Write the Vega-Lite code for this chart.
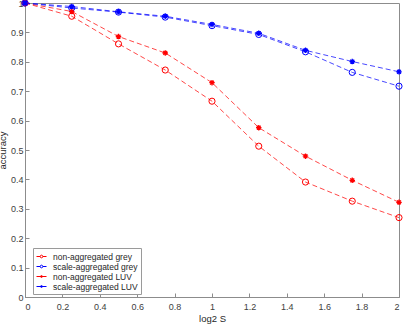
{
  "$schema": "https://vega.github.io/schema/vega-lite/v6.json",
  "width": 374,
  "height": 294,
  "autosize": {"type": "none"},
  "padding": {"left": 25, "top": 3, "right": 4, "bottom": 28},
  "background": "white",
  "config": {
    "view": {"stroke": "#8c8c8c", "strokeWidth": 1},
    "font": "Liberation Sans",
    "axis": {
      "grid": false,
      "domainColor": "#8c8c8c",
      "tickColor": "#8c8c8c",
      "tickSize": -4,
      "labelColor": "#404040",
      "labelFont": "Liberation Sans",
      "labelFontSize": 9,
      "titleFont": "Liberation Sans",
      "titleFontSize": 9.5,
      "titleFontWeight": "normal",
      "titleColor": "#262626"
    },
    "axisX": {"labelPadding": 9, "titlePadding": 2},
    "axisY": {"labelPadding": 6, "titlePadding": 3}
  },
  "data": {
    "values": [
      {"x": 0, "acc": 1.0, "series": "non-aggregated grey"},
      {"x": 0.25, "acc": 0.955, "series": "non-aggregated grey"},
      {"x": 0.5, "acc": 0.861, "series": "non-aggregated grey"},
      {"x": 0.75, "acc": 0.772, "series": "non-aggregated grey"},
      {"x": 1.0, "acc": 0.666, "series": "non-aggregated grey"},
      {"x": 1.25, "acc": 0.513, "series": "non-aggregated grey"},
      {"x": 1.5, "acc": 0.391, "series": "non-aggregated grey"},
      {"x": 1.75, "acc": 0.326, "series": "non-aggregated grey"},
      {"x": 2.0, "acc": 0.27, "series": "non-aggregated grey"},
      {"x": 0, "acc": 1.0, "series": "scale-aggregated grey"},
      {"x": 0.25, "acc": 0.983, "series": "scale-aggregated grey"},
      {"x": 0.5, "acc": 0.969, "series": "scale-aggregated grey"},
      {"x": 0.75, "acc": 0.952, "series": "scale-aggregated grey"},
      {"x": 1.0, "acc": 0.923, "series": "scale-aggregated grey"},
      {"x": 1.25, "acc": 0.893, "series": "scale-aggregated grey"},
      {"x": 1.5, "acc": 0.834, "series": "scale-aggregated grey"},
      {"x": 1.75, "acc": 0.764, "series": "scale-aggregated grey"},
      {"x": 2.0, "acc": 0.717, "series": "scale-aggregated grey"},
      {"x": 0, "acc": 1.0, "series": "non-aggregated LUV"},
      {"x": 0.25, "acc": 0.971, "series": "non-aggregated LUV"},
      {"x": 0.5, "acc": 0.886, "series": "non-aggregated LUV"},
      {"x": 0.75, "acc": 0.83, "series": "non-aggregated LUV"},
      {"x": 1.0, "acc": 0.729, "series": "non-aggregated LUV"},
      {"x": 1.25, "acc": 0.576, "series": "non-aggregated LUV"},
      {"x": 1.5, "acc": 0.479, "series": "non-aggregated LUV"},
      {"x": 1.75, "acc": 0.397, "series": "non-aggregated LUV"},
      {"x": 2.0, "acc": 0.322, "series": "non-aggregated LUV"},
      {"x": 0, "acc": 1.0, "series": "scale-aggregated LUV"},
      {"x": 0.25, "acc": 0.988, "series": "scale-aggregated LUV"},
      {"x": 0.5, "acc": 0.97, "series": "scale-aggregated LUV"},
      {"x": 0.75, "acc": 0.955, "series": "scale-aggregated LUV"},
      {"x": 1.0, "acc": 0.927, "series": "scale-aggregated LUV"},
      {"x": 1.25, "acc": 0.897, "series": "scale-aggregated LUV"},
      {"x": 1.5, "acc": 0.839, "series": "scale-aggregated LUV"},
      {"x": 1.75, "acc": 0.801, "series": "scale-aggregated LUV"},
      {"x": 2.0, "acc": 0.766, "series": "scale-aggregated LUV"}
    ]
  },
  "layer": [
    {
      "transform": [{"filter": "indexof(datum.series, 'non-') == 0"}],
      "mark": {"type": "line", "stroke": "#ff0000", "strokeDash": [5, 3], "strokeWidth": 0.8, "opacity": 0.9},
      "encoding": {
        "x": {"field": "x", "type": "quantitative", "scale": {"domain": [0, 2], "nice": false, "zero": false},
          "axis": {"orient": "bottom", "values": [0, 0.2, 0.4, 0.6, 0.8, 1, 1.2, 1.4, 1.6, 1.8, 2], "labelExpr": "'' + datum.value", "title": "log2 S"}},
        "y": {"field": "acc", "type": "quantitative", "scale": {"domain": [0, 1], "nice": false},
          "axis": {"orient": "left", "values": [0, 0.1, 0.2, 0.3, 0.4, 0.5, 0.6, 0.7, 0.8, 0.9, 1], "labelExpr": "'' + datum.value", "title": "accuracy"}},
        "detail": {"field": "series"}
      }
    },
    {
      "transform": [{"filter": "indexof(datum.series, 'scale-') == 0"}],
      "mark": {"type": "line", "stroke": "#0000ff", "strokeDash": [5, 3], "strokeWidth": 0.8, "opacity": 0.9},
      "encoding": {
        "x": {"field": "x", "type": "quantitative",
          "axis": {"orient": "bottom", "values": [0, 0.2, 0.4, 0.6, 0.8, 1, 1.2, 1.4, 1.6, 1.8, 2], "labelExpr": "'' + datum.value", "title": "log2 S"}},
        "y": {"field": "acc", "type": "quantitative",
          "axis": {"orient": "left", "values": [0, 0.1, 0.2, 0.3, 0.4, 0.5, 0.6, 0.7, 0.8, 0.9, 1], "labelExpr": "'' + datum.value", "title": "accuracy"}},
        "detail": {"field": "series"}
      }
    },
    {
      "transform": [{"filter": "datum.series == 'non-aggregated grey'"}],
      "mark": {"type": "point", "shape": "circle", "size": 38, "strokeWidth": 1, "stroke": "#ff0000", "fill": "none", "filled": false, "opacity": 1},
      "encoding": {
        "x": {"field": "x", "type": "quantitative",
          "axis": {"orient": "bottom", "values": [0, 0.2, 0.4, 0.6, 0.8, 1, 1.2, 1.4, 1.6, 1.8, 2], "labelExpr": "'' + datum.value", "title": "log2 S"}},
        "y": {"field": "acc", "type": "quantitative",
          "axis": {"orient": "left", "values": [0, 0.1, 0.2, 0.3, 0.4, 0.5, 0.6, 0.7, 0.8, 0.9, 1], "labelExpr": "'' + datum.value", "title": "accuracy"}}
      }
    },
    {
      "transform": [{"filter": "datum.series == 'scale-aggregated grey'"}],
      "mark": {"type": "point", "shape": "circle", "size": 38, "strokeWidth": 1, "stroke": "#0000ff", "fill": "none", "filled": false, "opacity": 1},
      "encoding": {
        "x": {"field": "x", "type": "quantitative",
          "axis": {"orient": "bottom", "values": [0, 0.2, 0.4, 0.6, 0.8, 1, 1.2, 1.4, 1.6, 1.8, 2], "labelExpr": "'' + datum.value", "title": "log2 S"}},
        "y": {"field": "acc", "type": "quantitative",
          "axis": {"orient": "left", "values": [0, 0.1, 0.2, 0.3, 0.4, 0.5, 0.6, 0.7, 0.8, 0.9, 1], "labelExpr": "'' + datum.value", "title": "accuracy"}}
      }
    },
    {
      "transform": [{"filter": "datum.series == 'non-aggregated LUV'"}],
      "mark": {"type": "point", "shape": "M-1,0L1,0M0,-1L0,1M-0.7,-0.7L0.7,0.7M-0.7,0.7L0.7,-0.7", "size": 30, "strokeWidth": 1.3, "stroke": "#ff0000", "filled": false, "opacity": 1},
      "encoding": {
        "x": {"field": "x", "type": "quantitative",
          "axis": {"orient": "bottom", "values": [0, 0.2, 0.4, 0.6, 0.8, 1, 1.2, 1.4, 1.6, 1.8, 2], "labelExpr": "'' + datum.value", "title": "log2 S"}},
        "y": {"field": "acc", "type": "quantitative",
          "axis": {"orient": "left", "values": [0, 0.1, 0.2, 0.3, 0.4, 0.5, 0.6, 0.7, 0.8, 0.9, 1], "labelExpr": "'' + datum.value", "title": "accuracy"}}
      }
    },
    {
      "transform": [{"filter": "datum.series == 'scale-aggregated LUV'"}],
      "mark": {"type": "point", "shape": "M-1,0L1,0M0,-1L0,1M-0.7,-0.7L0.7,0.7M-0.7,0.7L0.7,-0.7", "size": 30, "strokeWidth": 1.3, "stroke": "#0000ff", "filled": false, "opacity": 1},
      "encoding": {
        "x": {"field": "x", "type": "quantitative",
          "axis": {"orient": "bottom", "values": [0, 0.2, 0.4, 0.6, 0.8, 1, 1.2, 1.4, 1.6, 1.8, 2], "labelExpr": "'' + datum.value", "title": "log2 S"}},
        "y": {"field": "acc", "type": "quantitative",
          "axis": {"orient": "left", "values": [0, 0.1, 0.2, 0.3, 0.4, 0.5, 0.6, 0.7, 0.8, 0.9, 1], "labelExpr": "'' + datum.value", "title": "accuracy"}}
      }
    },
    {
      "mark": {"type": "point", "size": 484, "strokeWidth": 1, "opacity": 0, "filled": true},
      "encoding": {
        "x": {"field": "x", "type": "quantitative",
          "axis": {"orient": "bottom", "values": [0, 0.2, 0.4, 0.6, 0.8, 1, 1.2, 1.4, 1.6, 1.8, 2], "labelExpr": "'' + datum.value", "title": "log2 S"}},
        "y": {"field": "acc", "type": "quantitative",
          "axis": {"orient": "left", "values": [0, 0.1, 0.2, 0.3, 0.4, 0.5, 0.6, 0.7, 0.8, 0.9, 1], "labelExpr": "'' + datum.value", "title": "accuracy"}},
        "stroke": {"field": "series", "type": "nominal",
          "scale": {"domain": ["non-aggregated grey", "scale-aggregated grey", "non-aggregated LUV", "scale-aggregated LUV"], "range": ["#ff0000", "#0000ff", "#ff0000", "#0000ff"]},
          "legend": {"orient": "none", "legendX": 8, "legendY": 245, "title": null, "padding": 3,
            "strokeColor": "#9a9a9a", "fillColor": "white", "labelFontSize": 8.5, "labelColor": "#262626",
            "labelFont": "Liberation Sans", "symbolOpacity": 1, "symbolStrokeWidth": 1, "rowPadding": -1, "labelOffset": 6}},
        "fill": {"field": "series", "type": "nominal",
          "scale": {"domain": ["non-aggregated grey", "scale-aggregated grey", "non-aggregated LUV", "scale-aggregated LUV"], "range": ["#ffffff", "#ffffff", "#ff0000", "#0000ff"]}},
        "shape": {"field": "series", "type": "nominal",
          "scale": {"domain": ["non-aggregated grey", "scale-aggregated grey", "non-aggregated LUV", "scale-aggregated LUV"],
            "range": [
              "M-1,0H-0.27M0.27,0H1M0.27,0A0.27,0.27,0,1,1,-0.27,0A0.27,0.27,0,1,1,0.27,0Z",
              "M-1,0H-0.27M0.27,0H1M0.27,0A0.27,0.27,0,1,1,-0.27,0A0.27,0.27,0,1,1,0.27,0Z",
              "M-1,0H1M0.2,0A0.2,0.2,0,1,1,-0.2,0A0.2,0.2,0,1,1,0.2,0Z",
              "M-1,0H1M0.2,0A0.2,0.2,0,1,1,-0.2,0A0.2,0.2,0,1,1,0.2,0Z"
            ]}}
      }
    }
  ]
}
